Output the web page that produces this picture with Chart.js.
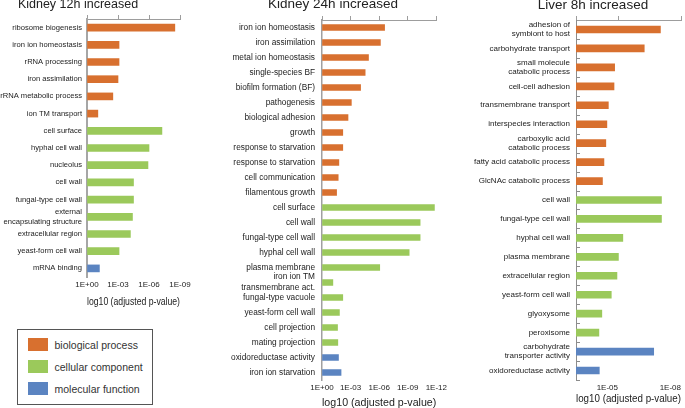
<!DOCTYPE html>
<html>
<head>
<meta charset="utf-8">
<script src="https://cdn.jsdelivr.net/npm/chart.js@4.4.1/dist/chart.umd.min.js"></script>
<style>
  html, body { margin: 0; padding: 0; background: #fff; }
  body {
    width: 685px; height: 408px; position: relative; overflow: hidden;
    font-family: "Liberation Sans", Arial, sans-serif; color: #222;
  }
  canvas { position: absolute; top: 0; }
  .title { position: absolute; text-align: center; line-height: 1; white-space: nowrap; width: 200px; }
  .legend {
    position: absolute; left: 17px; top: 329px; width: 134px; height: 74px;
    border: 1.5px solid #555;
  }
  .legend .row { position: absolute; left: 9.5px; height: 14px; display: flex; align-items: center; }
  .legend .sw { width: 20px; height: 13px; margin-right: 7px; }
  .legend .txt { font-size: 10.5px; color: #333; white-space: nowrap; }
</style>
</head>
<body>
<canvas id="k12" width="200" height="310" style="left:0"></canvas>
<canvas id="k24" width="250" height="410" style="left:200px"></canvas>
<canvas id="l8" width="235" height="408" style="left:450px"></canvas>

<div class="title" style="left:-22px;top:-2px;font-size:12.5px">Kidney 12h increased</div>
<div class="title" style="left:233px;top:-3px;font-size:13.5px">Kidney 24h increased</div>
<div class="title" style="left:493px;top:-2.5px;font-size:13.5px">Liver 8h increased</div>

<div class="legend" id="legend"></div>

<script>
// values are -log10(adjusted p-value)
const GROUP_COLORS = { bp: "#D8702F", cc: "#9BC95B", mf: "#5B84C1" };
const legendKeys = ["bp", "cc", "mf"];
const legendLabels = ["biological process", "cellular component", "molecular function"];

const k12Labels = [
  "ribosome biogenesis", "iron ion homeostasis", "rRNA processing", "iron assimilation",
  "rRNA metabolic process", "ion TM transport", "cell surface", "hyphal cell wall", "nucleolus",
  "cell wall", "fungal-type cell wall", ["external", "encapsulating structure"],
  "extracellular region", "yeast-form cell wall", "mRNA binding",
];
const k12Values = [8.5, 3.1, 3.1, 3.0, 2.5, 1.05, 7.25, 6.0, 5.9, 4.5, 4.5, 4.4, 4.2, 3.1, 1.2];
const k12Groups = ["bp", "bp", "bp", "bp", "bp", "bp", "cc", "cc", "cc", "cc", "cc", "cc", "cc", "cc", "mf"];
const k12Ticks = [0, 3, 6, 9];

const k24Labels = [
  "iron ion homeostasis", "iron assimilation", "metal ion homeostasis", "single-species BF",
  "biofilm formation (BF)", "pathogenesis", "biological adhesion", "growth",
  "response to starvation", "response to starvation", "cell communication", "filamentous growth",
  "cell surface", "cell wall", "fungal-type cell wall", "hyphal cell wall", "plasma membrane",
  ["iron ion TM", "transmembrane act."], "fungal-type vacuole", "yeast-form cell wall",
  "cell projection", "mating projection", "oxidoreductase activity", "iron ion starvation",
];
const k24Values = [
  6.57, 6.13, 4.88, 4.53, 4.05, 3.08, 2.73, 2.18, 2.18, 1.77, 1.7, 1.53,
  11.8, 10.3, 10.3, 9.15, 6.06, 1.14, 2.18, 1.83, 1.63, 1.66, 1.73, 2.0,
];
const k24Groups = [
  "bp", "bp", "bp", "bp", "bp", "bp", "bp", "bp", "bp", "bp", "bp", "bp",
  "cc", "cc", "cc", "cc", "cc", "cc", "cc", "cc", "cc", "cc", "mf", "mf",
];
const k24Ticks = [0, 3, 6, 9, 12];

const l8Labels = [
  ["adhesion of", "symbiont to host"], "carbohydrate transport", ["small molecule", "catabolic process"],
  "cell-cell adhesion", "transmembrane transport", "interspecies interaction",
  ["carboxylic acid", "catabolic process"], "fatty acid catabolic process", "GlcNAc catabolic process",
  "cell wall", "fungal-type cell wall", "hyphal cell wall", "plasma membrane", "extracellular region",
  "yeast-form cell wall", "glyoxysome", "peroxisome", ["carbohydrate", "transporter activity"],
  "oxidoreductase activity",
];
const l8Values = [7.02, 6.25, 4.84, 4.81, 4.54, 4.47, 4.42, 4.33, 4.26, 7.07, 7.07, 5.23, 5.02, 4.95, 4.68, 4.23, 4.09, 6.7, 4.11];
const l8Groups = ["bp", "bp", "bp", "bp", "bp", "bp", "bp", "bp", "bp", "cc", "cc", "cc", "cc", "cc", "cc", "cc", "cc", "mf", "mf"];
const l8Ticks = [3, 5, 8];
const l8Labelled = [5, 8];

const AXIS_GREY = "#9d9d9d";

Chart.defaults.font.family = '"Liberation Sans", Arial, sans-serif';
Chart.defaults.color = "#222";

function fmtExp(v) {
  return v === 0 ? "1E+00" : "1E-" + String(v).padStart(2, "0");
}

// small marks between categories, on the inside of the y axis
const innerTicks = {
  id: "innerTicks",
  afterDraw(chart) {
    const y = chart.scales.y;
    const ctx = chart.ctx;
    const left = chart.chartArea.left;
    const n = y.ticks.length;
    ctx.save();
    ctx.strokeStyle = "#8c8c8c";
    ctx.lineWidth = 1;
    ctx.beginPath();
    for (let i = 1; i <= n; i++) {
      const py = i === n ? y.bottom : (y.getPixelForTick(i - 1) + y.getPixelForTick(i)) / 2;
      const yy = Math.round(py) + 0.5;
      ctx.moveTo(left, yy);
      ctx.lineTo(left + 4, yy);
    }
    ctx.stroke();
    ctx.restore();
  },
};

function buildPanel(id, p) {
  const setTicks = (scale) => {
    scale.ticks = p.ticks.map((v) => ({ value: v }));
  };
  return new Chart(document.getElementById(id), {
    type: "bar",
    data: {
      labels: p.labels,
      datasets: [{
        data: p.values,
        backgroundColor: p.groups.map((g) => GROUP_COLORS[g]),
        barThickness: p.barThickness,
        xAxisID: "x",
        yAxisID: "y",
      }],
    },
    options: {
      indexAxis: "y",
      responsive: false,
      animation: false,
      devicePixelRatio: 1,
      layout: { padding: { left: 0, right: p.padRight, top: 0, bottom: 0 } },
      plugins: { legend: { display: false }, tooltip: { enabled: false } },
      scales: {
        x: {
          type: "linear",
          position: "top",
          min: p.min,
          max: p.max,
          afterBuildTicks: setTicks,
          afterFit: (s) => { s.height = p.top; },
          grid: { drawOnChartArea: false, drawTicks: true, tickLength: 4, color: AXIS_GREY },
          border: { color: AXIS_GREY, width: 1 },
          ticks: { display: false },
        },
        x2: {
          type: "linear",
          position: "bottom",
          min: p.min,
          max: p.max,
          afterBuildTicks: setTicks,
          afterFit: (s) => { s.height = p.bottomH; },
          grid: { display: false, drawTicks: false },
          border: { display: false },
          ticks: {
            font: { size: 8 },
            padding: 3,
            maxRotation: 0,
            autoSkip: false,
            align: p.tickAlign || "center",
            callback: (v) => (p.labelled && !p.labelled.includes(v) ? "" : fmtExp(v)),
          },
          title: {
            display: true,
            text: "log10 (adjusted p-value)",
            font: { size: p.titleSize },
            padding: { top: 0, bottom: p.titlePad },
          },
        },
        y: {
          type: "category",
          afterFit: (s) => { s.width = p.left; },
          grid: { display: false, drawTicks: false },
          border: { color: p.axisColor, width: p.axisWidth },
          ticks: {
            font: { size: p.labelSize, lineHeight: p.labelLine },
            padding: p.labelPad,
            autoSkip: false,
          },
        },
      },
    },
    plugins: p.innerTicks ? [innerTicks] : [],
  });
}

buildPanel("k12", {
  labels: k12Labels, values: k12Values, groups: k12Groups, ticks: k12Ticks,
  min: 0, max: 9, left: 87, padRight: 20, top: 19, bottomH: 33,
  barThickness: 7, labelSize: 7.6, labelLine: 1.3, labelPad: 5, titleSize: 10, titlePad: 2,
  axisColor: "#a6a6a6", axisWidth: 2,
});

buildPanel("k24", {
  labels: k24Labels, values: k24Values, groups: k24Groups, ticks: k24Ticks,
  min: 0, max: 12, left: 122, padRight: 12, top: 20, bottomH: 30,
  barThickness: 6, labelSize: 8.3, labelLine: 1.3, labelPad: 7, titleSize: 11, titlePad: 0,
  axisColor: "#a0a0a0", axisWidth: 1.5,
});

buildPanel("l8", {
  labels: l8Labels, values: l8Values, groups: l8Groups, ticks: l8Ticks, labelled: l8Labelled,
  min: 3, max: 8, left: 126, padRight: 4, top: 20, bottomH: 28, tickAlign: "end",
  barThickness: 7, labelSize: 8, labelLine: 1.15, labelPad: 6, titleSize: 10.5, titlePad: 3,
  axisColor: "#8c8c8c", axisWidth: 1, innerTicks: true,
});

// legend
const legend = document.getElementById("legend");
const rowTops = [7.5, 29.5, 51.5];
legendKeys.forEach((k, i) => {
  const row = document.createElement("div");
  row.className = "row";
  row.style.top = rowTops[i] + "px";
  const sw = document.createElement("div");
  sw.className = "sw";
  sw.style.background = GROUP_COLORS[k];
  const txt = document.createElement("span");
  txt.className = "txt";
  txt.textContent = legendLabels[i];
  row.appendChild(sw);
  row.appendChild(txt);
  legend.appendChild(row);
});
</script>
</body>
</html>
